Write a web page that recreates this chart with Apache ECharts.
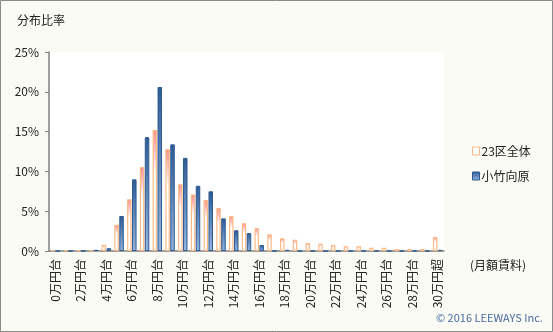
<!DOCTYPE html>
<html><head><meta charset="utf-8">
<script src="https://cdn.jsdelivr.net/npm/echarts@6/dist/echarts.min.js"></script>
<style>html,body{margin:0;padding:0;background:#f9fbf4;}#c{width:553px;height:332px;}</style>
</head><body><div id="c"></div>
<script>
const categories = ['0万円台','1万円台','2万円台','3万円台','4万円台','5万円台','6万円台','7万円台','8万円台','9万円台',
  '10万円台','11万円台','12万円台','13万円台','14万円台','15万円台','16万円台','17万円台','18万円台','19万円台',
  '20万円台','21万円台','22万円台','23万円台','24万円台','25万円台','26万円台','27万円台','28万円台','29万円台','30万円超'];
const ward23 = [0.1,0.1,0.1,0.1,0.75,3.3,6.5,10.55,15.2,12.8,8.4,7.1,6.4,5.4,4.4,3.5,2.9,2.1,1.6,1.4,1.0,0.9,0.75,0.6,0.6,0.4,0.4,0.25,0.25,0.25,1.75];
const kotake = [0,0,0,0.15,0.35,4.4,9.0,14.3,20.6,13.4,11.7,8.2,7.5,4.1,2.6,2.25,0.75,0,0.15,0,0,0,0,0,0,0,0,0,0,0,0.15];
const yTicks = [0,5,10,15,20,25];

const font = '"Noto Sans CJK JP", "Noto Sans", sans-serif';
const chart = echarts.init(document.getElementById('c'), null, {renderer:'canvas'});
const pinkFill = new echarts.graphic.LinearGradient(0,0,0,1,[
  {offset:0,color:'#f88a8a'},{offset:0.35,color:'#ffffff'},{offset:1,color:'#ffffff'}]);
const blueFill = new echarts.graphic.LinearGradient(0,0,0,1,[
  {offset:0,color:'#2f5b94'},{offset:1,color:'#94b4df'}]);
chart.setOption({
  backgroundColor:'#f9fbf4',
  animation:false,
  grid:{left:49,right:109,top:52,bottom:81,show:true,backgroundColor:'#ffffff',borderWidth:0},
  title:{text:'分布比率',left:12,top:9,textStyle:{fontFamily:font,fontSize:12,fontWeight:'normal',color:'#222'}},
  legend:{orient:'vertical',left:467,top:140,itemGap:13,itemWidth:7,itemHeight:8,icon:'rect',
    textStyle:{fontFamily:font,fontSize:12,color:'#222',padding:[0,0,0,-3]},
    data:[{name:'23区全体',itemStyle:{color:'#ffffff',borderColor:'#fbbb88',borderWidth:1}},
          {name:'小竹向原',itemStyle:{color:blueFill,borderColor:'#2d5a90',borderWidth:1}}]},
  xAxis:{type:'category',data:categories,
    axisLine:{lineStyle:{color:'#808080',width:1.5}},
    axisTick:{interval:1,length:4,lineStyle:{color:'#808080'}},
    axisLabel:{interval:1,rotate:90,fontFamily:font,fontSize:12,color:'#222',margin:8}},
  yAxis:{type:'value',min:0,max:25,interval:5,
    axisLine:{show:true,lineStyle:{color:'#808080',width:1.5}},
    axisTick:{show:true,length:4,inside:false,lineStyle:{color:'#808080'}},
    splitLine:{show:false},
    axisLabel:{fontFamily:font,fontSize:12,color:'#222',margin:10,
      formatter:v=>yTicks.includes(v)?v+'%':''}},
  series:[
    {name:'23区全体',type:'bar',data:ward23,barWidth:4.5,barGap:'0%',
      itemStyle:{color:pinkFill,borderColor:'#fbbb88',borderWidth:1.2}},
    {name:'小竹向原',type:'bar',data:kotake,barWidth:4.5,barGap:'10%',
      itemStyle:{color:blueFill,borderColor:'#2d5a90',borderWidth:1}}
  ],
  graphic:[
    {type:'text',left:470,top:259,style:{text:'(月額賃料)',font:'12px '+font,fill:'#222'}},
    {type:'text',left:436,top:312,style:{text:'© 2016 LEEWAYS Inc.',font:'11px '+font,fill:'#4a6aa3'}},
    {type:'rect',shape:{x:0.5,y:0.5,width:552,height:331},style:{fill:null,stroke:'#8a8a8a',lineWidth:1},silent:true,z:100}
  ]
});
</script></body></html>
